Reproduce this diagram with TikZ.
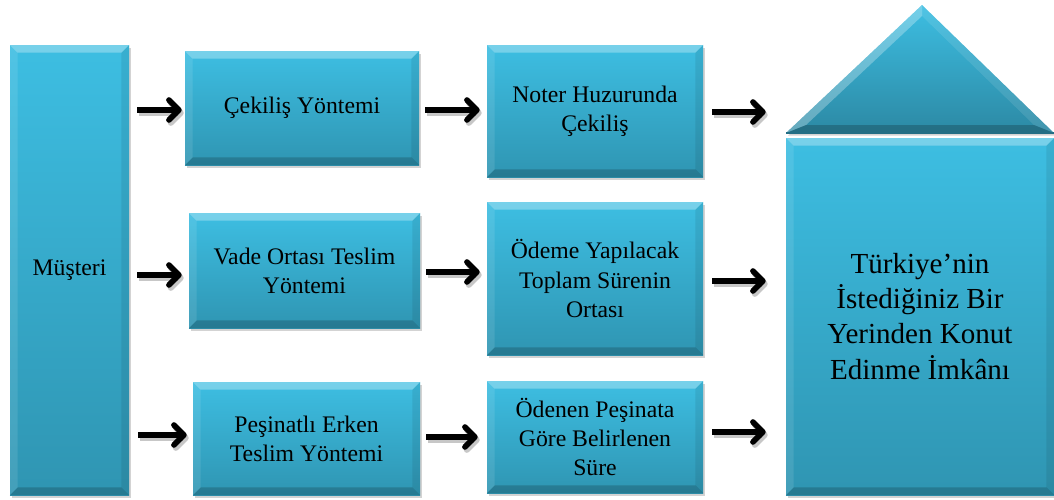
\documentclass[tikz,border=0pt]{standalone}
\usepackage{fontspec}
\setmainfont{Liberation Serif}
\usetikzlibrary{arrows.meta,shadows,calc}
\definecolor{facetop}{HTML}{3DBEE2}
\definecolor{facebot}{HTML}{2F95B2}
\definecolor{roofbot}{HTML}{2C89A4}
\definecolor{edgedark}{HTML}{236E85}
\tikzset{
  x=0.75pt, y=-0.75pt,
  panel/.style={inner sep=0pt, top color=facetop, bottom color=facebot,
    draw=none, align=center, font=\fontsize{17.8}{21.8}\selectfont,
    drop shadow={shadow xshift=1.5pt, shadow yshift=-2pt, opacity=.35}},
  bigpanel/.style={panel, font=\fontsize{21.8}{26.3}\selectfont},
  flow/.style={line width=4.2pt, -{Straight Barb[length=7.5pt,width=15pt,round]},
    preaction={draw=black, opacity=.22, line width=4.4pt,
      transform canvas={shift={(1.5pt,-2.2pt)}}}},
}
% bevelled rim of a rectangular panel
\newcommand\bevelrim[1]{%
  \fill[white, opacity=.30] (#1.north west) -- (#1.north east) -- ($(#1.north east)+(-8,8)$) -- ($(#1.north west)+(8,8)$) -- cycle;
  \fill[black, opacity=.18] (#1.south west) -- (#1.south east) -- ($(#1.south east)+(-8,-8)$) -- ($(#1.south west)+(8,-8)$) -- cycle;
  \fill[white, opacity=.10] (#1.north west) -- ($(#1.north west)+(8,8)$) -- ($(#1.south west)+(8,-8)$) -- (#1.south west) -- cycle;
  \fill[black, opacity=.08] (#1.north east) -- ($(#1.north east)+(-8,8)$) -- ($(#1.south east)+(-8,-8)$) -- (#1.south east) -- cycle;
}
\begin{document}
\begin{tikzpicture}
\useasboundingbox (0,0) rectangle (1054,500);

% customer column
\node[panel, minimum width=89.25pt, minimum height=337.5pt] (m) at (69.5,270) {Müşteri};

% delivery methods
\node[panel, minimum width=175.5pt, minimum height=85.5pt] (a1) at (302,108) {Çekiliş Yöntemi};
\node[panel, minimum width=173.25pt, minimum height=86.25pt] (a2) at (304.5,270.5) {Vade Ortası Teslim\\Yöntemi};
\node[panel, minimum width=170.25pt, minimum height=84.75pt] (a3) at (306.5,438.5) {Peşinatlı Erken\\Teslim Yöntemi};

% how the date is set
\node[panel, minimum width=162pt, minimum height=99pt] (b1) at (595,111) {Noter Huzurunda\\Çekiliş};
\node[panel, minimum width=162pt, minimum height=114.75pt] (b2) at (595,278.5) {Ödeme Yapılacak\\Toplam Sürenin\\Ortası};
\node[panel, minimum width=162pt, minimum height=84pt] (b3) at (595,437) {Ödenen Peşinata\\Göre Belirlenen\\Süre};

% house: body and roof
\node[bigpanel, minimum width=201pt, minimum height=267.75pt] (h) at (920,316.5) {Türkiye’nin\\İstediğiniz Bir\\Yerinden Konut\\Edinme İmkânı};

\coordinate (apex) at (922,5);
\coordinate (rl) at (786,133);
\coordinate (rr) at (1054,133);
\path[top color=facetop, bottom color=roofbot,
  drop shadow={shadow xshift=1.5pt, shadow yshift=-2pt, opacity=.35}]
  (rl) -- (apex) -- (rr) -- cycle;
\fill[white, opacity=.28] (rl) -- (apex) -- (922,16) -- (806,125) -- cycle;
\fill[white, opacity=.10] (apex) -- (rr) -- (1034,125) -- (922,16) -- cycle;
\fill[black, opacity=.20] (rl) -- (rr) -- (1034,125) -- (806,125) -- cycle;
\draw[edgedark, line width=0.8pt] (rl) -- (rr);

\foreach \n in {m,a1,a2,a3,b1,b2,b3,h} {\bevelrim{\n}}

% arrows
\draw[flow, shorten <=6pt, shorten >=2.25pt] (m.east |- 0,110) -- (a1.west |- 0,110);
\draw[flow, shorten <=6pt, shorten >=5.25pt] (m.east |- 0,275) -- (a2.west |- 0,275);
\draw[flow, shorten <=6.75pt, shorten >=4.5pt] (m.east |- 0,435) -- (a3.west |- 0,435);

\draw[flow, shorten <=4.5pt, shorten >=5.25pt] (a1.east |- 0,110) -- (b1.west |- 0,110);
\draw[flow, shorten <=4.5pt, shorten >=5.25pt] (a2.east |- 0,272) -- (b2.west |- 0,272);
\draw[flow, shorten <=4.5pt, shorten >=6.75pt] (a3.east |- 0,437) -- (b3.west |- 0,437);

\draw[flow, shorten <=6.75pt, shorten >=15pt] (b1.east |- 0,112) -- (h.west |- 0,112);
\draw[flow, shorten <=6.75pt, shorten >=15pt] (b2.east |- 0,281) -- (h.west |- 0,281);
\draw[flow, shorten <=6.75pt, shorten >=15pt] (b3.east |- 0,432) -- (h.west |- 0,432);
\end{tikzpicture}
\end{document}
